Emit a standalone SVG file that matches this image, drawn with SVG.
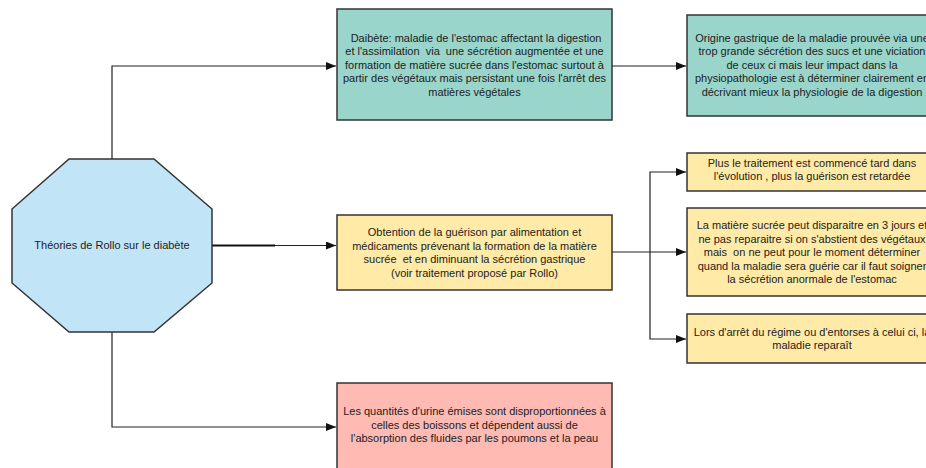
<svg xmlns="http://www.w3.org/2000/svg" width="926" height="468" viewBox="0 0 926 468">
<defs>
<style>
.box{stroke:#333;stroke-width:1.5}
.teal{fill:#99d5ca}
.yellow{fill:#ffeaa7}
.pink{fill:#ffbab3}
.blue{fill:#c1e4f7}
.t{font-family:"Liberation Sans",Arial,sans-serif;font-size:11px;fill:#222;text-anchor:middle;dominant-baseline:central;white-space:pre}
.c{fill:none;stroke:#222;stroke-width:1.2}
</style>
<marker id="arr" viewBox="0 0 10 8" refX="10" refY="4" markerWidth="10" markerHeight="8" markerUnits="userSpaceOnUse" orient="auto">
<path d="M0,0 L10,4 L0,8 Z" fill="#111"/>
</marker>
</defs>
<rect width="926" height="468" fill="#fff"/>
<g id="connectors">
<path class="c" d="M112,159 V66 H336" marker-end="url(#arr)"/>
<path class="c" d="M612,66 H686" marker-end="url(#arr)"/>
<path class="c" d="M212,245.5 H336" marker-end="url(#arr)"/>
<path d="M212,245.5 H275" stroke="#111" stroke-width="2"/>
<path class="c" d="M612,252 H686" marker-end="url(#arr)"/>
<path class="c" d="M686,172 H650 V339 H686" marker-end="url(#arr)"/>
<path d="M650,172 H686" stroke="none" marker-end="url(#arr)"/>
<path class="c" d="M112,332 V427 H336" marker-end="url(#arr)"/>
</g>
<g id="root">
<polygon class="box blue" points="69,159 154,159 212,209 212,283 154,332 69,332 12,283 12,209"/>
<text class="t" x="112" y="245">Théories de Rollo sur le diabète</text>
</g>
<g id="n-daibete">
<rect class="box teal" x="337" y="9" width="275" height="111"/>
<text class="t" x="474.5" y="37.5" xml:space="preserve"> Daibète: maladie de l'estomac affectant la digestion</text>
<text class="t" x="474.5" y="51" xml:space="preserve">et l'assimilation  via  une sécrétion augmentée et une</text>
<text class="t" x="474.5" y="64.5">formation de matière sucrée dans l'estomac surtout à</text>
<text class="t" x="474.5" y="78">partir des végétaux mais persistant une fois l'arrêt des</text>
<text class="t" x="474.5" y="91.5">matières végétales</text>
</g>
<g id="n-origine">
<rect class="box teal" x="687" y="15" width="250" height="101"/>
<text class="t" x="812" y="37.5">Origine gastrique de la maladie prouvée via une</text>
<text class="t" x="812" y="51">trop grande sécrétion des sucs et une viciation</text>
<text class="t" x="812" y="64.5">de ceux ci mais leur impact dans la</text>
<text class="t" x="812" y="78">physiopathologie est à déterminer clairement en</text>
<text class="t" x="812" y="91.5">décrivant mieux la physiologie de la digestion</text>
</g>
<g id="n-guerison">
<rect class="box yellow" x="337" y="215" width="275" height="75"/>
<text class="t" x="474.5" y="232">Obtention de la guérison par alimentation et</text>
<text class="t" x="474.5" y="245.5">médicaments prévenant la formation de la matière</text>
<text class="t" x="474.5" y="259" xml:space="preserve">sucrée  et en diminuant la sécrétion gastrique</text>
<text class="t" x="474.5" y="272.5">(voir traitement proposé par Rollo)</text>
</g>
<g id="n-tard">
<rect class="box yellow" x="687" y="153" width="250" height="38"/>
<text class="t" x="812" y="162.5">Plus le traitement est commencé tard dans</text>
<text class="t" x="812" y="176">l'évolution , plus la guérison est retardée</text>
</g>
<g id="n-sucree">
<rect class="box yellow" x="687" y="208" width="250" height="88"/>
<text class="t" x="812" y="225">La matière sucrée peut disparaitre en 3 jours et</text>
<text class="t" x="812" y="238.5">ne pas reparaitre si on s'abstient des végétaux</text>
<text class="t" x="812" y="252" xml:space="preserve">mais  on ne peut pour le moment déterminer</text>
<text class="t" x="812" y="265.5">quand la maladie sera guérie car il faut soigner</text>
<text class="t" x="812" y="279">la sécrétion anormale de l'estomac</text>
</g>
<g id="n-arret">
<rect class="box yellow" x="687" y="314" width="250" height="49"/>
<text class="t" x="812" y="331.5">Lors d'arrêt du régime ou d'entorses à celui ci, la</text>
<text class="t" x="812" y="345">maladie reparaît</text>
</g>
<g id="n-urine">
<rect class="box pink" x="337" y="383" width="275" height="90"/>
<text class="t" x="474.5" y="411">Les quantités d'urine émises sont disproportionnées à</text>
<text class="t" x="474.5" y="424.5">celles des boissons et dépendent aussi de</text>
<text class="t" x="474.5" y="438">l'absorption des fluides par les poumons et la peau</text>
</g>
</svg>
